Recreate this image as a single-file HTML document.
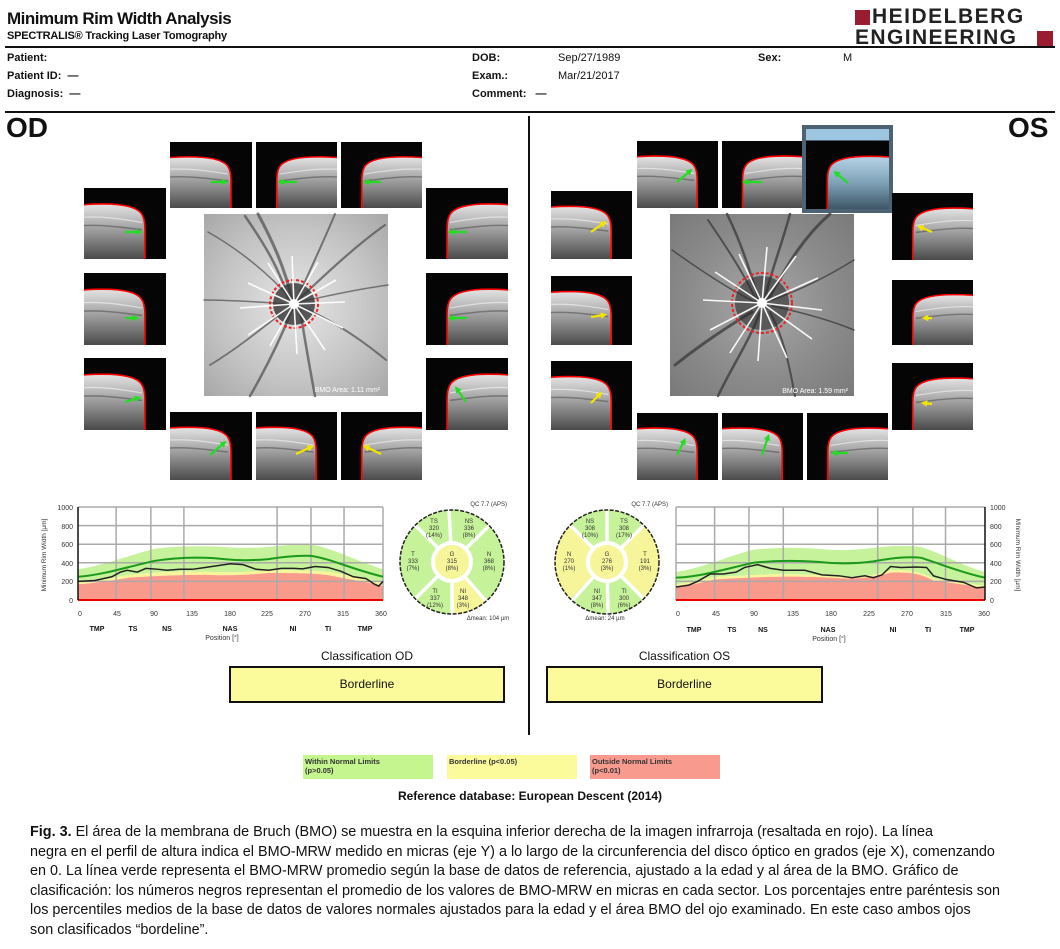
<!DOCTYPE html>
<html><head><meta charset="utf-8">
<style>
body{margin:0;background:#fff;width:1060px;height:949px;position:relative;overflow:hidden;font-family:"Liberation Sans",Arial,sans-serif;color:#111}
.a{position:absolute;white-space:nowrap}
.b{font-weight:bold;font-size:11px}
.cap{left:30px;top:823px;font-size:14.4px;line-height:19.6px;color:#111}
.cap div{white-space:nowrap}
</style></head><body>
<div class="a" style="left:7px;top:9px;font-size:17px;font-weight:bold;letter-spacing:-0.5px">Minimum Rim Width Analysis</div>
<div class="a" style="left:7px;top:30px;font-size:11px;font-weight:bold;letter-spacing:-0.2px">SPECTRALIS® Tracking Laser Tomography</div>
<div class="a" style="left:855px;top:10px;width:15px;height:15px;background:#9b1b30"></div>
<div class="a" style="left:872px;top:6px;font-size:21px;font-weight:bold;letter-spacing:1.5px;color:#222;line-height:22px">HEIDELBERG</div>
<div class="a" style="left:855px;top:27px;font-size:21px;font-weight:bold;letter-spacing:1.4px;color:#222;line-height:22px">ENGINEERING</div>
<div class="a" style="left:1037px;top:31px;width:16px;height:15px;background:#9b1b30"></div>
<div class="a" style="left:5px;top:46px;width:1050px;height:2px;background:#111"></div>
<div class="a b" style="left:7px;top:52px">Patient:</div>
<div class="a b" style="left:7px;top:70px">Patient ID:&nbsp;&nbsp;—</div>
<div class="a b" style="left:7px;top:88px">Diagnosis:&nbsp;&nbsp;—</div>
<div class="a b" style="left:472px;top:52px">DOB:</div>
<div class="a b" style="left:472px;top:70px">Exam.:</div>
<div class="a b" style="left:472px;top:88px">Comment:&nbsp;&nbsp;&nbsp;—</div>
<div class="a b" style="left:558px;top:52px;font-weight:normal">Sep/27/1989</div>
<div class="a b" style="left:558px;top:70px;font-weight:normal">Mar/21/2017</div>
<div class="a b" style="left:758px;top:52px">Sex:</div>
<div class="a b" style="left:843px;top:52px;font-weight:normal">M</div>
<div class="a" style="left:5px;top:111px;width:1050px;height:2px;background:#111"></div>
<div class="a" style="left:6px;top:112px;font-size:28px;font-weight:bold">OD</div>
<div class="a" style="left:1008px;top:112px;font-size:28px;font-weight:bold">OS</div>
<div class="a" style="left:528px;top:116px;width:2px;height:619px;background:#111"></div>

<svg class="a" style="left:0;top:0" width="1060" height="820" viewBox="0 0 1060 820">
<defs>
<linearGradient id="gg" x1="0" y1="0" x2="0" y2="1"><stop offset="0" stop-color="#e4e4e4"/><stop offset=".3" stop-color="#b8b8b8"/><stop offset=".6" stop-color="#8a8a8a"/><stop offset="1" stop-color="#4a4a4a"/></linearGradient>
<linearGradient id="gb" x1="0" y1="0" x2="0" y2="1"><stop offset="0" stop-color="#b8d4e6"/><stop offset=".5" stop-color="#7fa2b8"/><stop offset="1" stop-color="#3d5666"/></linearGradient>
<symbol id="tL" viewBox="0 0 82 68" preserveAspectRatio="none">
<rect width="82" height="68" fill="#050505"/>
<path d="M0,16 C30,14 50,16 57,24 C61,29 61,36 61,44 L61,68 L0,68 Z" fill="url(#gg)"/>
<path d="M0,28 C20,27 40,30 58,33" stroke="#eee" stroke-width="1.2" fill="none" opacity=".7"/>
<path d="M0,36 C20,35 40,38 58,40" stroke="#555" stroke-width="1.5" fill="none" opacity=".6"/>
<path d="M0,16 C30,14 50,16 57,24 C61,29 61,36 61,44 L61,68" stroke="#f00" stroke-width="1.6" fill="none"/>
</symbol>
<symbol id="tR" viewBox="0 0 82 68" preserveAspectRatio="none"><g transform="translate(82,0) scale(-1,1)"><use href="#tL" width="82" height="68"/></g></symbol>
<symbol id="tB" viewBox="0 0 82 68" preserveAspectRatio="none">
<rect width="82" height="68" fill="#050505"/>
<path d="M82,16 C52,14 32,16 25,24 C21,29 21,36 21,44 L21,68 L82,68 Z" fill="url(#gb)"/>
<path d="M82,16 C52,14 32,16 25,24 C21,29 21,36 21,44 L21,68" stroke="#f00" stroke-width="1.6" fill="none"/>
</symbol>
<marker id="mg" viewBox="0 0 10 10" refX="5" refY="5" markerWidth="3" markerHeight="3" orient="auto"><path d="M0,0 L10,5 L0,10 Z" fill="#22dd22"/></marker>
<marker id="my" viewBox="0 0 10 10" refX="5" refY="5" markerWidth="3" markerHeight="3" orient="auto"><path d="M0,0 L10,5 L0,10 Z" fill="#f4e400"/></marker>
<radialGradient id="fd1" cx=".5" cy=".5" r=".7"><stop offset="0" stop-color="#e6e6e6"/><stop offset=".6" stop-color="#c4c4c4"/><stop offset="1" stop-color="#a8a8a8"/></radialGradient>
<radialGradient id="fd2" cx=".5" cy=".5" r=".7"><stop offset="0" stop-color="#a8a8a8"/><stop offset=".6" stop-color="#8a8a8a"/><stop offset="1" stop-color="#7a7a7a"/></radialGradient>
</defs>

<use href="#tL" x="170" y="142" width="82" height="66"/>
<use href="#tR" x="256" y="142" width="81" height="66"/>
<use href="#tR" x="341" y="142" width="81" height="66"/>
<use href="#tL" x="84" y="188" width="82" height="71"/>
<use href="#tL" x="84" y="273" width="82" height="72"/>
<use href="#tL" x="84" y="358" width="82" height="72"/>
<use href="#tR" x="426" y="188" width="82" height="71"/>
<use href="#tR" x="426" y="273" width="82" height="72"/>
<use href="#tR" x="426" y="358" width="82" height="72"/>
<use href="#tL" x="170" y="412" width="82" height="68"/>
<use href="#tL" x="256" y="412" width="81" height="68"/>
<use href="#tR" x="341" y="412" width="81" height="68"/>
<g stroke-width="2.2" fill="none">
<line x1="211" y1="182" x2="225" y2="182" stroke="#22dd22" marker-end="url(#mg)"/>
<line x1="297" y1="182" x2="281" y2="182" stroke="#22dd22" marker-end="url(#mg)"/>
<line x1="381" y1="182" x2="366" y2="182" stroke="#22dd22" marker-end="url(#mg)"/>
<line x1="125" y1="232" x2="139" y2="232" stroke="#22dd22" marker-end="url(#mg)"/>
<line x1="125" y1="318" x2="136" y2="318" stroke="#22dd22" marker-end="url(#mg)"/>
<line x1="125" y1="402" x2="138" y2="398" stroke="#22dd22" marker-end="url(#mg)"/>
<line x1="467" y1="232" x2="451" y2="232" stroke="#22dd22" marker-end="url(#mg)"/>
<line x1="467" y1="318" x2="451" y2="318" stroke="#22dd22" marker-end="url(#mg)"/>
<line x1="466" y1="402" x2="457" y2="389" stroke="#22dd22" marker-end="url(#mg)"/>
<line x1="210" y1="455" x2="224" y2="443" stroke="#22dd22" marker-end="url(#mg)"/>
<line x1="296" y1="454" x2="311" y2="447" stroke="#f4e400" marker-end="url(#my)"/>
<line x1="381" y1="454" x2="366" y2="447" stroke="#f4e400" marker-end="url(#my)"/>
</g>
<rect x="204" y="214" width="184" height="182" fill="url(#fd1)"/>
<g stroke="#555" fill="none" stroke-linecap="round" opacity=".75">
<path d="M258,214 C272,240 285,268 292,300" stroke-width="3"/>
<path d="M245,216 C265,245 280,270 288,298" stroke-width="2.5"/>
<path d="M208,232 C240,250 270,275 292,300" stroke-width="1.5"/>
<path d="M335,214 C320,250 305,280 297,300" stroke-width="2"/>
<path d="M385,225 C350,250 320,280 298,300" stroke-width="2.2"/>
<path d="M388,285 C350,290 320,298 298,302" stroke-width="1.5"/>
<path d="M386,360 C350,330 320,315 300,306" stroke-width="2"/>
<path d="M300,310 C305,340 310,370 315,396" stroke-width="2.5"/>
<path d="M292,310 C280,340 265,370 250,396" stroke-width="2.5"/>
<path d="M288,308 C260,330 235,350 210,365" stroke-width="1.8"/>
<path d="M204,300 C230,300 260,302 288,304" stroke-width="1.5"/>
</g>
<circle cx="294" cy="304" r="21" fill="#333" opacity=".8"/>
<circle cx="294" cy="304" r="24" fill="none" stroke="#e22" stroke-width="2" stroke-dasharray="3 2"/>
<g stroke="#fff" stroke-width="1.6" opacity=".95">
<line x1="294" y1="304" x2="292" y2="256"/><line x1="294" y1="304" x2="318" y2="262"/><line x1="294" y1="304" x2="336" y2="280"/>
<line x1="294" y1="304" x2="345" y2="302"/><line x1="294" y1="304" x2="343" y2="328"/><line x1="294" y1="304" x2="325" y2="350"/>
<line x1="294" y1="304" x2="297" y2="354"/><line x1="294" y1="304" x2="270" y2="346"/><line x1="294" y1="304" x2="248" y2="335"/>
<line x1="294" y1="304" x2="240" y2="308"/><line x1="294" y1="304" x2="248" y2="283"/><line x1="294" y1="304" x2="268" y2="263"/>
</g>
<circle cx="294" cy="304" r="5" fill="#fff"/>
<text x="380" y="392" font-size="7" fill="#fff" text-anchor="end" font-family="Liberation Sans">BMO Area: 1.11 mm²</text>

<use href="#tL" x="637" y="141" width="81" height="67"/>
<use href="#tR" x="722" y="141" width="80" height="67"/>
<rect x="802" y="125" width="91" height="88" fill="#4d6272"/>
<rect x="806" y="129" width="83" height="11" fill="#9ec6e0"/>
<use href="#tB" x="806" y="141" width="83" height="68"/>
<use href="#tL" x="551" y="191" width="81" height="68"/>
<use href="#tL" x="551" y="276" width="81" height="69"/>
<use href="#tL" x="551" y="361" width="81" height="69"/>
<use href="#tR" x="892" y="193" width="81" height="67"/>
<use href="#tR" x="892" y="280" width="81" height="65"/>
<use href="#tR" x="892" y="363" width="81" height="67"/>
<use href="#tL" x="637" y="413" width="81" height="67"/>
<use href="#tL" x="722" y="413" width="81" height="67"/>
<use href="#tR" x="807" y="413" width="81" height="67"/>
<g stroke-width="2.2" fill="none">
<line x1="677" y1="182" x2="690" y2="171" stroke="#22dd22" marker-end="url(#mg)"/>
<line x1="762" y1="182" x2="745" y2="182" stroke="#22dd22" marker-end="url(#mg)"/>
<line x1="848" y1="183" x2="836" y2="173" stroke="#22dd22" marker-end="url(#mg)"/>
<line x1="591" y1="232" x2="604" y2="223" stroke="#f4e400" marker-end="url(#my)"/>
<line x1="591" y1="317" x2="604" y2="315" stroke="#f4e400" marker-end="url(#my)"/>
<line x1="591" y1="403" x2="600" y2="394" stroke="#f4e400" marker-end="url(#my)"/>
<line x1="932" y1="232" x2="920" y2="227" stroke="#f4e400" marker-end="url(#my)"/>
<line x1="932" y1="318" x2="925" y2="318" stroke="#f4e400" marker-end="url(#my)"/>
<line x1="932" y1="404" x2="924" y2="403" stroke="#f4e400" marker-end="url(#my)"/>
<line x1="677" y1="455" x2="684" y2="441" stroke="#22dd22" marker-end="url(#mg)"/>
<line x1="762" y1="455" x2="768" y2="437" stroke="#22dd22" marker-end="url(#mg)"/>
<line x1="848" y1="453" x2="834" y2="453" stroke="#22dd22" marker-end="url(#mg)"/>
</g>
<rect x="670" y="214" width="184" height="182" fill="url(#fd2)"/>
<g stroke="#3a3a3a" fill="none" stroke-linecap="round" opacity=".75">
<path d="M727,214 C740,240 750,270 758,298" stroke-width="2.5"/>
<path d="M708,220 C725,245 745,275 756,300" stroke-width="2"/>
<path d="M790,214 C780,250 770,275 765,298" stroke-width="2.5"/>
<path d="M830,214 C800,240 785,270 768,300" stroke-width="3"/>
<path d="M672,250 C700,270 730,290 755,302" stroke-width="1.5"/>
<path d="M752,312 C730,325 700,345 675,365" stroke-width="3"/>
<path d="M760,312 C750,340 730,370 718,396" stroke-width="2.5"/>
<path d="M770,312 C785,340 790,370 795,396" stroke-width="2"/>
<path d="M854,330 C830,320 800,312 772,306" stroke-width="1.5"/>
<path d="M854,260 C830,275 800,290 772,300" stroke-width="1.5"/>
</g>
<circle cx="762" cy="303" r="27" fill="#2a2a2a" opacity=".6"/>
<circle cx="762" cy="303" r="30" fill="none" stroke="#e22" stroke-width="2" stroke-dasharray="3 2"/>
<g stroke="#fff" stroke-width="1.6" opacity=".95">
<line x1="762" y1="303" x2="767" y2="247"/><line x1="762" y1="303" x2="796" y2="256"/><line x1="762" y1="303" x2="818" y2="278"/>
<line x1="762" y1="303" x2="822" y2="310"/><line x1="762" y1="303" x2="812" y2="339"/><line x1="762" y1="303" x2="787" y2="358"/>
<line x1="762" y1="303" x2="758" y2="361"/><line x1="762" y1="303" x2="730" y2="353"/><line x1="762" y1="303" x2="710" y2="330"/>
<line x1="762" y1="303" x2="703" y2="300"/><line x1="762" y1="303" x2="715" y2="272"/><line x1="762" y1="303" x2="739" y2="254"/>
</g>
<circle cx="762" cy="303" r="5" fill="#fff"/>
<text x="848" y="393" font-size="7" fill="#fff" text-anchor="end" font-family="Liberation Sans">BMO Area: 1.59 mm²</text>

<svg x="78" y="507" width="305" height="93" viewBox="0 0 360 1000" preserveAspectRatio="none" overflow="visible">
<g transform="translate(0,1000) scale(1,-1)">
<path d="M0,330 C30,370 60,480 90,550 C110,575 135,580 160,575 C185,560 200,555 225,570 C245,590 260,600 275,595 C300,560 320,450 360,330 L360,180 C340,230 320,260 300,300 C280,320 250,320 225,320 C200,300 180,290 150,305 C120,310 90,300 60,270 C40,240 20,200 0,200 Z" fill="#c5f29a"/>
<path d="M0,200 C20,200 40,240 60,270 C90,300 120,310 150,305 C180,290 200,300 225,320 C250,320 280,320 300,300 C320,260 340,230 360,180 L360,150 C340,200 320,220 300,260 C280,290 250,290 225,290 C200,270 180,260 150,270 C120,270 90,260 60,240 C40,210 20,180 0,170 Z" fill="#f7f59a"/>
<path d="M0,170 C20,180 40,210 60,240 C90,260 120,270 150,270 C180,260 200,270 225,290 C250,290 280,290 300,260 C320,220 340,200 360,150 L360,0 L0,0 Z" fill="#f89a8c"/>
<g stroke="#aaa" stroke-width="1.5">
<line x1="0" y1="200" x2="360" y2="200" vector-effect="non-scaling-stroke"/><line x1="0" y1="400" x2="360" y2="400" vector-effect="non-scaling-stroke"/><line x1="0" y1="600" x2="360" y2="600" vector-effect="non-scaling-stroke"/><line x1="0" y1="800" x2="360" y2="800" vector-effect="non-scaling-stroke"/><line x1="0" y1="1000" x2="360" y2="1000" vector-effect="non-scaling-stroke"/>
<line x1="45" y1="0" x2="45" y2="1000" vector-effect="non-scaling-stroke"/><line x1="86" y1="0" x2="86" y2="1000" vector-effect="non-scaling-stroke"/><line x1="125" y1="0" x2="125" y2="1000" vector-effect="non-scaling-stroke"/><line x1="235" y1="0" x2="235" y2="1000" vector-effect="non-scaling-stroke"/><line x1="275" y1="0" x2="275" y2="1000" vector-effect="non-scaling-stroke"/><line x1="314" y1="0" x2="314" y2="1000" vector-effect="non-scaling-stroke"/><line x1="360" y1="0" x2="360" y2="1000" vector-effect="non-scaling-stroke"/>
</g>
<path d="M0,250 C30,270 60,360 90,420 C110,450 135,465 160,450 C185,425 200,420 225,440 C245,470 260,480 275,475 C300,440 320,340 360,250" fill="none" stroke="#1a9a1a" stroke-width="2" vector-effect="non-scaling-stroke"/>
<polyline points="0,200 20,210 40,250 50,300 58,320 70,300 80,340 95,330 105,320 120,330 135,330 150,350 165,370 180,390 195,380 210,330 225,320 240,340 255,340 265,335 280,360 295,350 310,310 325,250 340,230 350,170 355,150 360,200" fill="none" stroke="#222" stroke-width="1.5" vector-effect="non-scaling-stroke"/>
<line x1="0" y1="0" x2="360" y2="0" stroke="#e00" stroke-width="2" vector-effect="non-scaling-stroke"/>
<line x1="0" y1="0" x2="0" y2="1000" stroke="#111" stroke-width="1.5" vector-effect="non-scaling-stroke"/>
</g></svg>
<g font-family="Liberation Sans" font-size="7" fill="#333">
<text x="73" y="510" text-anchor="end">1000</text><text x="73" y="529" text-anchor="end">800</text><text x="73" y="547" text-anchor="end">600</text><text x="73" y="566" text-anchor="end">400</text><text x="73" y="584" text-anchor="end">200</text><text x="73" y="603" text-anchor="end">0</text>
<text x="80" y="616" text-anchor="middle">0</text><text x="117" y="616" text-anchor="middle">45</text><text x="154" y="616" text-anchor="middle">90</text><text x="192" y="616" text-anchor="middle">135</text><text x="230" y="616" text-anchor="middle">180</text><text x="267" y="616" text-anchor="middle">225</text><text x="305" y="616" text-anchor="middle">270</text><text x="343" y="616" text-anchor="middle">315</text><text x="381" y="616" text-anchor="middle">360</text>
<text x="222" y="640" text-anchor="middle">Position [°]</text>
<text transform="translate(46,555) rotate(-90)" text-anchor="middle" font-size="6.5">Minimum Rim Width [µm]</text>
<g font-weight="bold" fill="#111" text-anchor="middle"><text x="97" y="631">TMP</text><text x="133" y="631">TS</text><text x="167" y="631">NS</text><text x="230" y="631">NAS</text><text x="293" y="631">NI</text><text x="328" y="631">TI</text><text x="365" y="631">TMP</text></g>
</g>

<svg x="676" y="507" width="309" height="93" viewBox="0 0 360 1000" preserveAspectRatio="none" overflow="visible">
<g transform="translate(0,1000) scale(1,-1)">
<path d="M0,300 C30,340 60,470 90,540 C115,565 140,570 165,550 C190,530 210,535 230,560 C250,585 270,585 285,570 C305,520 330,380 360,300 L360,150 C335,190 315,210 300,230 C285,300 275,330 250,320 C235,270 220,255 200,250 C180,260 150,280 120,280 C90,270 70,260 45,250 C30,220 15,180 0,170 Z" fill="#c5f29a"/>
<path d="M0,170 C15,180 30,220 45,250 C70,260 90,270 120,280 C150,280 180,260 200,250 C220,255 235,270 250,320 C275,330 285,300 300,230 C315,210 335,190 360,150 L360,130 C335,170 315,190 300,210 C285,280 275,300 250,295 C235,250 220,235 200,230 C180,240 150,255 120,250 C90,245 70,235 45,220 C30,190 15,150 0,140 Z" fill="#f7f59a"/>
<path d="M0,140 C15,150 30,190 45,220 C70,235 90,245 120,250 C150,255 180,240 200,230 C220,235 235,250 250,295 C275,300 285,280 300,210 C315,190 335,170 360,130 L360,0 L0,0 Z" fill="#f89a8c"/>
<g stroke="#aaa" stroke-width="1.5">
<line x1="0" y1="200" x2="360" y2="200" vector-effect="non-scaling-stroke"/><line x1="0" y1="400" x2="360" y2="400" vector-effect="non-scaling-stroke"/><line x1="0" y1="600" x2="360" y2="600" vector-effect="non-scaling-stroke"/><line x1="0" y1="800" x2="360" y2="800" vector-effect="non-scaling-stroke"/><line x1="0" y1="1000" x2="360" y2="1000" vector-effect="non-scaling-stroke"/>
<line x1="45" y1="0" x2="45" y2="1000" vector-effect="non-scaling-stroke"/><line x1="85" y1="0" x2="85" y2="1000" vector-effect="non-scaling-stroke"/><line x1="125" y1="0" x2="125" y2="1000" vector-effect="non-scaling-stroke"/><line x1="235" y1="0" x2="235" y2="1000" vector-effect="non-scaling-stroke"/><line x1="276" y1="0" x2="276" y2="1000" vector-effect="non-scaling-stroke"/><line x1="314" y1="0" x2="314" y2="1000" vector-effect="non-scaling-stroke"/><line x1="0" y1="0" x2="0" y2="1000" vector-effect="non-scaling-stroke"/>
</g>
<path d="M0,240 C30,250 60,340 90,400 C115,425 140,425 165,410 C190,385 210,390 230,415 C250,450 270,470 285,455 C305,400 330,300 360,240" fill="none" stroke="#1a9a1a" stroke-width="2" vector-effect="non-scaling-stroke"/>
<polyline points="0,140 15,160 25,200 40,280 55,280 70,300 80,350 95,380 110,340 125,320 150,320 170,270 190,260 205,240 220,260 230,240 240,270 250,360 262,350 280,355 292,350 300,260 315,220 335,190 350,130 360,140" fill="none" stroke="#222" stroke-width="1.5" vector-effect="non-scaling-stroke"/>
<line x1="0" y1="0" x2="360" y2="0" stroke="#e00" stroke-width="2" vector-effect="non-scaling-stroke"/>
<line x1="360" y1="0" x2="360" y2="1000" stroke="#111" stroke-width="1.5" vector-effect="non-scaling-stroke"/>
</g></svg>
<g font-family="Liberation Sans" font-size="7" fill="#333">
<text x="990" y="510">1000</text><text x="990" y="529">800</text><text x="990" y="547">600</text><text x="990" y="566">400</text><text x="990" y="584">200</text><text x="990" y="603">0</text>
<text x="678" y="616" text-anchor="middle">0</text><text x="716" y="616" text-anchor="middle">45</text><text x="754" y="616" text-anchor="middle">90</text><text x="793" y="616" text-anchor="middle">135</text><text x="831" y="616" text-anchor="middle">180</text><text x="869" y="616" text-anchor="middle">225</text><text x="907" y="616" text-anchor="middle">270</text><text x="946" y="616" text-anchor="middle">315</text><text x="984" y="616" text-anchor="middle">360</text>
<text x="829" y="641" text-anchor="middle">Position [°]</text>
<text transform="translate(1016,555) rotate(90)" text-anchor="middle" font-size="6.5">Minimum Rim Width [µm]</text>
<g font-weight="bold" fill="#111" text-anchor="middle"><text x="694" y="632">TMP</text><text x="732" y="632">TS</text><text x="763" y="632">NS</text><text x="828" y="632">NAS</text><text x="893" y="632">NI</text><text x="928" y="632">TI</text><text x="967" y="632">TMP</text></g>
</g>

<circle cx="452" cy="562" r="52" fill="#c6f29a"/>
<path d="M452,562 L452,614 A52,52 0 0 0 486,601 Z" fill="#f7f59a"/>
<g stroke="#fff" stroke-width="3.5">
<line x1="452" y1="562" x2="449" y2="510"/><line x1="452" y1="562" x2="489" y2="526"/><line x1="452" y1="562" x2="486" y2="601"/><line x1="452" y1="562" x2="452" y2="614"/><line x1="452" y1="562" x2="415" y2="599"/><line x1="452" y1="562" x2="415" y2="525"/>
</g>
<circle cx="452" cy="562" r="19" fill="#f7f59a" stroke="#fff" stroke-width="4"/>
<circle cx="452" cy="562" r="52" fill="none" stroke="#222" stroke-width="1.5" stroke-dasharray="4 1.5"/>
<g font-family="Liberation Sans" font-size="6" fill="#333" text-anchor="middle">
<text x="434" y="523">TS</text><text x="434" y="530">320</text><text x="434" y="537">(14%)</text>
<text x="469" y="523">NS</text><text x="469" y="530">336</text><text x="469" y="537">(8%)</text>
<text x="489" y="556">N</text><text x="489" y="563">368</text><text x="489" y="570">(8%)</text>
<text x="463" y="593">NI</text><text x="463" y="600">348</text><text x="463" y="607">(3%)</text>
<text x="435" y="593">TI</text><text x="435" y="600">337</text><text x="435" y="607">(12%)</text>
<text x="413" y="556">T</text><text x="413" y="563">333</text><text x="413" y="570">(7%)</text>
<text x="452" y="556">G</text><text x="452" y="563">315</text><text x="452" y="570">(8%)</text>
<text x="507" y="506" text-anchor="end">QC 7.7 (APS)</text>
<text x="488" y="620">Δmean: 104 µm</text>
</g>

<circle cx="607" cy="562" r="52" fill="#c6f29a"/>
<path d="M607,562 L570,525 A52,52 0 0 0 570,599 Z" fill="#f7f59a"/>
<path d="M607,562 L644,525 A52,52 0 0 1 644,599 Z" fill="#f7f59a"/>
<g stroke="#fff" stroke-width="3.5">
<line x1="607" y1="562" x2="607" y2="510"/><line x1="607" y1="562" x2="644" y2="525"/><line x1="607" y1="562" x2="644" y2="599"/><line x1="607" y1="562" x2="608" y2="614"/><line x1="607" y1="562" x2="572" y2="601"/><line x1="607" y1="562" x2="570" y2="525"/>
</g>
<circle cx="607" cy="562" r="19" fill="#f7f59a" stroke="#fff" stroke-width="4"/>
<circle cx="607" cy="562" r="52" fill="none" stroke="#222" stroke-width="1.5" stroke-dasharray="4 1.5"/>
<g font-family="Liberation Sans" font-size="6" fill="#333" text-anchor="middle">
<text x="590" y="523">NS</text><text x="590" y="530">308</text><text x="590" y="537">(10%)</text>
<text x="624" y="523">TS</text><text x="624" y="530">308</text><text x="624" y="537">(17%)</text>
<text x="645" y="556">T</text><text x="645" y="563">191</text><text x="645" y="570">(3%)</text>
<text x="624" y="593">TI</text><text x="624" y="600">300</text><text x="624" y="607">(6%)</text>
<text x="597" y="593">NI</text><text x="597" y="600">347</text><text x="597" y="607">(8%)</text>
<text x="569" y="556">N</text><text x="569" y="563">270</text><text x="569" y="570">(1%)</text>
<text x="607" y="556">G</text><text x="607" y="563">276</text><text x="607" y="570">(3%)</text>
<text x="668" y="506" text-anchor="end">QC 7.7 (APS)</text>
<text x="605" y="620">Δmean: 24 µm</text>
</g>
</svg>

<div class="a" style="left:229px;top:649px;width:276px;text-align:center;font-size:12px">Classification OD</div>
<div class="a" style="left:229px;top:666px;width:272px;height:33px;border:2px solid #111;background:#fbfb9b;text-align:center;line-height:33px;font-size:12px">Borderline</div>
<div class="a" style="left:546px;top:649px;width:277px;text-align:center;font-size:12px">Classification OS</div>
<div class="a" style="left:546px;top:666px;width:273px;height:33px;border:2px solid #111;background:#fbfb9b;text-align:center;line-height:33px;font-size:12px">Borderline</div>

<div class="a" style="left:303px;top:755px;width:126px;height:20px;padding:2px;background:#c4f58f;font-size:7.5px;line-height:9px;font-weight:bold;color:#333;white-space:normal">Within Normal Limits<br>(p&gt;0.05)</div>
<div class="a" style="left:447px;top:755px;width:126px;height:20px;padding:2px;background:#fbfb9b;font-size:7.5px;line-height:9px;font-weight:bold;color:#333">Borderline (p&lt;0.05)</div>
<div class="a" style="left:590px;top:755px;width:126px;height:20px;padding:2px;background:#f89a8e;font-size:7.5px;line-height:9px;font-weight:bold;color:#333;white-space:normal">Outside Normal Limits<br>(p&lt;0.01)</div>
<div class="a" style="left:330px;top:789px;width:400px;text-align:center;font-size:12px;font-weight:bold">Reference database: European Descent (2014)</div>

<div class="a cap">
<div><b>Fig. 3.</b> El área de la membrana de Bruch (BMO) se muestra en la esquina inferior derecha de la imagen infrarroja (resaltada en rojo). La línea</div>
<div>negra en el perfil de altura indica el BMO-MRW medido en micras (eje Y) a lo largo de la circunferencia del disco óptico en grados (eje X), comenzando</div>
<div>en 0. La línea verde representa el BMO-MRW promedio según la base de datos de referencia, ajustado a la edad y al área de la BMO. Gráfico de</div>
<div>clasificación: los números negros representan el promedio de los valores de BMO-MRW en micras en cada sector. Los porcentajes entre paréntesis son</div>
<div>los percentiles medios de la base de datos de valores normales ajustados para la edad y el área BMO del ojo examinado. En este caso ambos ojos</div>
<div>son clasificados “bordeline”.</div>
</div>
</body></html>
